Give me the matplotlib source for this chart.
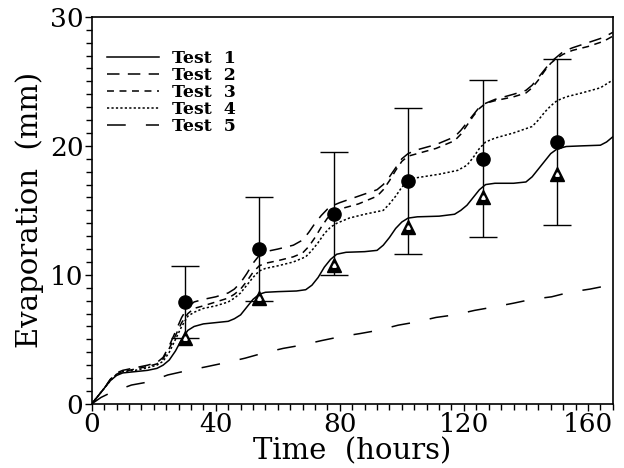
import numpy as np
import matplotlib
matplotlib.use("Agg")
import matplotlib.pyplot as plt

plt.rcParams['font.family'] = ['DejaVu Serif']
plt.rcParams['lines.scale_dashes'] = False

# cumulative evaporation curves (hours, mm)
t1 = [0, 2, 4, 6, 8, 10, 14, 18, 21, 23, 25, 27, 29, 31, 33, 36, 40, 44, 46, 48, 50, 52, 54, 56, 60, 66, 69, 71, 73,
      75, 77, 79, 82, 88, 92, 94, 96, 98, 100, 102, 105, 112, 117, 119, 121, 123, 125, 127, 130, 136, 140, 142, 144,
      146, 148, 150, 153, 158, 164, 166, 168]
v1 = [0, 0.6, 1.2, 1.8, 2.2, 2.4, 2.5, 2.6, 2.75, 3.0, 3.4, 4.1, 5.0, 5.7, 6.0, 6.2, 6.3, 6.4, 6.6, 6.9, 7.5, 8.1,
      8.5, 8.65, 8.7, 8.75, 8.85, 9.2, 9.8, 10.6, 11.2, 11.6, 11.75, 11.8, 11.9, 12.3, 12.9, 13.6, 14.1, 14.4, 14.5,
      14.55, 14.7, 15.0, 15.4, 16.0, 16.6, 17.0, 17.1, 17.1, 17.2, 17.6, 18.2, 18.8, 19.4, 19.75, 19.95, 20.0, 20.05,
      20.3, 20.7]

t2 = [0, 2, 4, 6, 8, 10, 14, 18, 21, 23, 25, 27, 29, 31, 33, 36, 40, 44, 46, 48, 50, 52, 54, 56, 60, 65, 68, 70, 72,
      74, 76, 78, 80, 86, 92, 94, 96, 98, 100, 102, 105, 111, 117, 119, 121, 123, 125, 127, 130, 136, 140, 142, 144,
      146, 148, 150, 152, 155, 160, 165, 168]
v2 = [0, 0.6, 1.2, 1.9, 2.4, 2.6, 2.8, 3.0, 3.2, 3.6, 4.5, 5.6, 6.7, 7.5, 7.9, 8.1, 8.3, 8.6, 8.9, 9.4, 10.1, 10.9,
      11.5, 11.8, 12.0, 12.3, 12.7, 13.3, 14.0, 14.6, 15.1, 15.4, 15.6, 16.1, 16.6, 17.0, 17.6, 18.3, 19.0, 19.4, 19.7,
      20.1, 20.7, 21.2, 21.8, 22.4, 23.0, 23.3, 23.6, 24.0, 24.3, 24.7, 25.3, 25.9, 26.5, 26.9, 27.3, 27.6, 28.0,
      28.4, 28.8]

t3 = t2
v3 = [0, 0.6, 1.2, 1.9, 2.3, 2.5, 2.7, 2.9, 3.1, 3.5, 4.3, 5.3, 6.3, 7.0, 7.4, 7.6, 7.9, 8.2, 8.5, 8.9, 9.5, 10.2,
      10.7, 10.9, 11.1, 11.4, 11.7, 12.2, 12.9, 13.7, 14.4, 14.8, 15.1, 15.5, 16.1, 16.6, 17.3, 18.1, 18.8, 19.2, 19.4,
      19.8, 20.4, 20.9, 21.6, 22.3, 22.9, 23.3, 23.5, 23.8, 24.1, 24.5, 25.1, 25.8, 26.4, 26.8, 27.1, 27.4, 27.7,
      28.1, 28.5]

t4 = [0, 2, 4, 6, 8, 10, 14, 18, 21, 23, 25, 27, 29, 31, 33, 36, 40, 44, 46, 48, 50, 52, 54, 56, 60, 65, 69, 71, 73,
      75, 77, 79, 83, 88, 94, 96, 98, 100, 102, 104, 112, 118, 121, 123, 125, 127, 130, 136, 142, 144, 146, 148, 150,
      153, 158, 164, 168]
v4 = [0, 0.6, 1.2, 1.8, 2.3, 2.5, 2.6, 2.8, 3.0, 3.3, 4.0, 5.0, 6.0, 6.8, 7.1, 7.4, 7.6, 7.9, 8.2, 8.6, 9.2, 9.8,
      10.3, 10.5, 10.7, 11.0, 11.4, 11.9, 12.5, 13.2, 13.7, 14.0, 14.4, 14.7, 15.0, 15.5, 16.1, 16.8, 17.3, 17.5, 17.8,
      18.1, 18.5, 19.1, 19.8, 20.3, 20.6, 21.0, 21.5, 22.0, 22.6, 23.1, 23.5, 23.8, 24.1, 24.5, 25.1]

t5 = [0, 3, 6.4, 12.8, 18.7, 24.5, 30.6, 37, 42.9, 49.4, 55.2, 61.7, 67.6, 74, 80, 86.5, 92.3, 98.8, 104.7, 111,
      117, 123.5, 129.4, 135.9, 141.8, 148.3, 154.2, 160.7, 167]
v5 = [0, 0.5, 0.9, 1.46, 1.72, 2.24, 2.57, 2.88, 3.18, 3.54, 3.93, 4.3, 4.55, 4.9, 5.2, 5.45, 5.7, 6.1, 6.35, 6.7,
      6.9, 7.25, 7.5, 7.8, 8.1, 8.3, 8.66, 8.9, 9.2]

# measured points
t_obs = [30, 54, 78, 102, 126, 150]
circ = [7.9, 12.0, 14.75, 17.25, 19.0, 20.3]
circ_err = [2.8, 4.0, 4.75, 5.65, 6.1, 6.4]
tri = [5.1, 8.2, 10.8, 13.7, 16.0, 17.8]

labels = ['Test  1', 'Test  2', 'Test  3', 'Test  4', 'Test  5']

fig = plt.figure(figsize=(6.24, 4.68), dpi=100)
ax = fig.add_axes([0.147, 0.137, 0.835, 0.827])

lw = 1.1
ax.plot(t1, v1, color='k', lw=lw, label=labels[0])
ax.plot(t2, v2, color='k', lw=lw, dashes=(9, 6), label=labels[1])
ax.plot(t3, v3, color='k', lw=lw, dashes=(5, 4), label=labels[2])
ax.plot(t4, v4, color='k', lw=lw, dashes=(1.6, 1.6), label=labels[3])
ax.plot(t5, v5, color='k', lw=lw, dashes=(13.5, 14.5), label=labels[4])

ax.errorbar(t_obs, circ, yerr=circ_err, fmt='none', ecolor='k', elinewidth=1.0, capsize=10, capthick=1.0)
ax.plot(t_obs, circ, 'o', color='k', ms=9.5, zorder=5)
ax.plot(t_obs, tri, '^', color='k', ms=10, zorder=5)
ax.plot(t_obs, tri, '^', color='w', ms=2.5, zorder=6)

ax.set_xlim(0, 168)
ax.set_ylim(0, 30)
ax.set_xticks([0, 40, 80, 120, 160])
ax.set_xticks(np.arange(0, 169, 4), minor=True)
ax.set_yticks([0, 10, 20, 30])
ax.set_yticks(np.arange(0, 31, 1), minor=True)
ax.tick_params(which='both', direction='out', top=False, right=False, width=1.0, labelsize=19, pad=1)
ax.tick_params(which='major', length=5)
ax.tick_params(which='minor', length=4)
for s in ax.spines.values():
    s.set_linewidth(1.2)

ax.set_xlabel('Time  (hours)', fontsize=21, labelpad=0)
ax.set_ylabel('Evaporation  (mm)', fontsize=21, labelpad=4)

leg = ax.legend(loc='upper left', bbox_to_anchor=(0.0, 0.955), frameon=False, handlelength=3.0,
                handletextpad=0.7, labelspacing=0.0, prop={'size': 12.5, 'weight': 'bold'})

fig.savefig('out.png', dpi=100)
